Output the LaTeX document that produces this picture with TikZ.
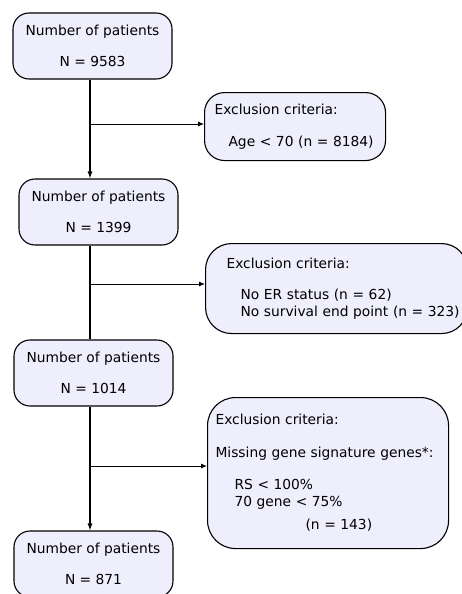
\documentclass[tikz,border=0pt]{standalone}
\usepackage{fontspec}
\setmainfont{DejaVu Sans}
\usetikzlibrary{positioning,arrows.meta}
\definecolor{boxfill}{RGB}{238,238,252}

\begin{document}
\begin{tikzpicture}[x=1pt, y=-1pt, font=\fontsize{13.8}{17}\selectfont,
  patbox/.style={draw, line width=1.1pt, fill=boxfill, rounded corners=16pt,
    minimum width=159pt, minimum height=66pt, align=center, inner sep=0pt},
  exclbox/.style={draw, line width=1.1pt, fill=boxfill, align=left,
    anchor=north west, inner ysep=0pt},
  flow/.style={line width=1.1pt},
  side/.style={line width=0.9pt, -{Latex[length=6pt, width=5pt]}}]
\useasboundingbox (0,0) rectangle (462,594);
% patient counts
\node[patbox] (box1) at (92.5,46) {Number of patients\\[14pt]N = 9583};
\node[patbox] (box2) at (98.5,212) {Number of patients\\[14pt]N = 1399};
\node[patbox] (box3) at (93.5,373) {Number of patients\\[14pt]N = 1014};
\node[patbox] (box4) at (93.5,564) {Number of patients\\[14pt]N = 871};
% exclusions
\node[exclbox, rounded corners=20pt, inner xsep=10pt, text width=161pt, minimum height=68pt] (excl1) at (204,92)
  {Exclusion criteria:\\[15pt]\hspace*{14pt}Age < 70 (n = 8184)};
\node[exclbox, rounded corners=26pt, inner xsep=21pt, text width=220pt, minimum height=90pt] (excl2) at (205,243)
  {Exclusion criteria:\\[14pt]\hspace*{14pt}No ER status (n = 62)\\\hspace*{14pt}\mbox{No survival end point (n = 323)}};
\node[exclbox, rounded corners=28pt, inner xsep=8pt, text width=225pt, minimum height=151pt] (excl3) at (207,397)
  {Exclusion criteria:\\[16pt]\mbox{Missing gene signature genes*:}\\[15pt]\hspace*{19pt}RS < 100\%\\\hspace*{19pt}70 gene < 75\%\\[6pt]\hspace*{90pt}(n = 143)};
% connectors
\coordinate (spine) at (90,0);
\coordinate (br1) at (90,124);
\coordinate (br2) at (90,284);
\coordinate (br3) at (90,466);
\draw[flow, -{Latex[length=7pt, width=5pt]}] (box1.south -| spine) -- (box2.north -| spine);
\draw[flow] (box2.south -| spine) -- (box3.north -| spine);
\draw[flow, -{Latex[length=7pt, width=5pt]}] (box3.south -| spine) -- (box4.north -| spine);
\draw[side] (br1) -- (br1 -| excl1.west);
\draw[side] (br2) -- (br2 -| excl2.west);
\draw[side] (br3) -- (br3 -| excl3.west);
\end{tikzpicture}
\end{document}
